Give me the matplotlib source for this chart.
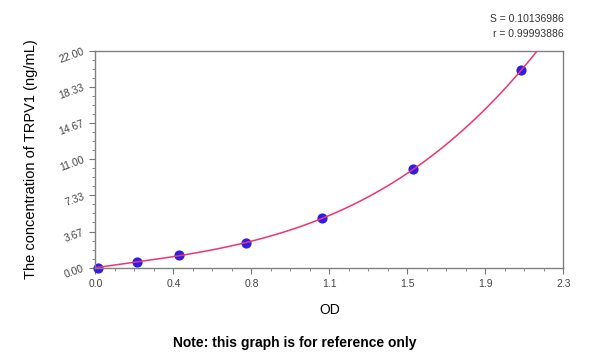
import numpy as np
import matplotlib
matplotlib.use("Agg")
import matplotlib.pyplot as plt
from matplotlib.ticker import FixedLocator, AutoMinorLocator

plt.rcParams["font.family"] = ["Liberation Sans", "DejaVu Sans"]

# standard points
od = [0.012, 0.206, 0.413, 0.741, 1.113, 1.563, 2.092]
conc = [0.0, 0.625, 1.25, 2.5, 5.0, 10.0, 20.0]
x_ticks = [0.0, 2.3 / 6, 2 * 2.3 / 6, 3 * 2.3 / 6, 4 * 2.3 / 6, 5 * 2.3 / 6, 2.3]
x_tick_labels = ["0.0", "0.4", "0.8", "1.1", "1.5", "1.9", "2.3"]
y_ticks = [0.0, 22 / 6, 2 * 22 / 6, 3 * 22 / 6, 4 * 22 / 6, 5 * 22 / 6, 22.0]
y_tick_labels = ["0.00", "3.67", "7.33", "11.00", "14.67", "18.33", "22.00"]

# fitted standard curve
coef = np.polyfit(od, conc, 3)
xs = np.linspace(0, 2.3, 300)
ys = np.polyval(coef, xs)

fig = plt.figure(figsize=(6, 3.58), dpi=100)
ax = fig.add_axes([0.159, 0.2522, 0.78, 0.6062])

ax.scatter(od, conc, s=40, color="#2a1ee8", zorder=2, clip_on=False)
ax.plot(xs, ys, color="#f2336e", lw=1.1, zorder=3)

ax.set_xlim(0, 2.3)
ax.set_ylim(0, 22)
ax.xaxis.set_major_locator(FixedLocator(x_ticks))
ax.yaxis.set_major_locator(FixedLocator(y_ticks))
ax.set_xticklabels(x_tick_labels)
ax.set_yticklabels(y_tick_labels, rotation=20)
ax.xaxis.set_minor_locator(AutoMinorLocator(4))
ax.yaxis.set_minor_locator(AutoMinorLocator(4))
ax.tick_params(which="major", length=4, width=0.8, color="#777777",
               labelsize=7.5, labelcolor="#444444", direction="out")
ax.tick_params(which="minor", length=2.5, width=0.6, color="#777777", direction="out")
ax.tick_params(axis="x", pad=4)
ax.tick_params(axis="y", pad=3)
for sp in ax.spines.values():
    sp.set_color("#808080")
    sp.set_linewidth(1.0)

ax.set_xlabel("OD", fontsize=10, labelpad=10)
ax.set_ylabel("The concentration of TRPV1 (ng/mL)", fontsize=10.5, labelpad=14)

fig.text(0.939, 0.947, "S = 0.10136986", ha="right", va="center", fontsize=7.5, color="#333333")
fig.text(0.939, 0.905, "r = 0.99993886", ha="right", va="center", fontsize=7.5, color="#333333")
fig.text(0.492, 0.042, "Note: this graph is for reference only", ha="center", va="center",
         fontsize=10, fontweight="bold")

fig.savefig("out.png", dpi=100)
